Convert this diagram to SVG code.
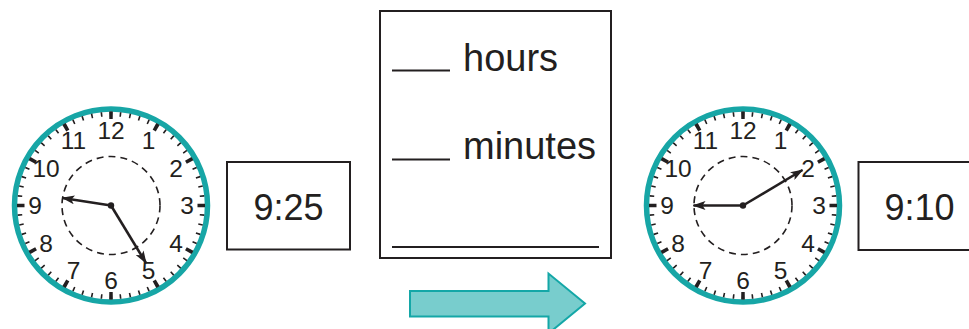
<svg xmlns="http://www.w3.org/2000/svg" width="969" height="329" viewBox="0 0 969 329">
<defs>
<style>
.face{fill:#fff;stroke:#17a6a6;stroke-width:5.5}
.mtick{fill:none;stroke:#231f20;stroke-width:4.5;stroke-dasharray:0.17 0.83;stroke-dashoffset:0.085}
.htick{fill:none;stroke:#231f20;stroke-width:7.5;stroke-dasharray:0.078 0.922;stroke-dashoffset:0.039}
.inner{fill:none;stroke:#231f20;stroke-width:1.6;stroke-dasharray:7 5}
.num{font-family:"Liberation Sans",Arial,sans-serif;font-size:24.5px;fill:#231f20;text-anchor:middle}
.hand{stroke:#231f20;stroke-width:2.6;fill:none;marker-end:url(#ah)}
.box{fill:#fff;stroke:#231f20;stroke-width:2}
.big{font-family:"Liberation Sans",Arial,sans-serif;font-size:36px;fill:#231f20;text-anchor:middle}
.word{font-family:"Liberation Sans",Arial,sans-serif;font-size:38px;fill:#231f20}
.rule{stroke:#231f20;stroke-width:2}
</style>
<marker id="ah" viewBox="0 0 13 9" refX="12" refY="4.5" markerWidth="13" markerHeight="9" markerUnits="userSpaceOnUse" orient="auto">
<path d="M0,0 L13,4.5 L0,9 L3,4.5 z" fill="#231f20"/>
</marker>
<g id="dial">
<circle class="face" r="96.5"/>
<circle class="mtick" r="91.5" pathLength="60"/>
<circle class="htick" r="90.25" pathLength="12"/>
<circle class="inner" r="49"/>
<text class="num" x="0" y="-66.5">12</text>
<text class="num" x="37.5" y="-56.5">1</text>
<text class="num" x="65" y="-29">2</text>
<text class="num" x="76" y="8.5">3</text>
<text class="num" x="65" y="46">4</text>
<text class="num" x="37.5" y="73.5">5</text>
<text class="num" x="0" y="83.5">6</text>
<text class="num" x="-37.5" y="73.5">7</text>
<text class="num" x="-65" y="46">8</text>
<text class="num" x="-76" y="8.5">9</text>
<text class="num" x="-65" y="-29">10</text>
<text class="num" x="-37.5" y="-56.5">11</text>
</g>
</defs>

<g id="clock-925" transform="translate(111,205.5)">
<use href="#dial"/>
<line class="hand" x1="0" y1="0" x2="-48.5" y2="-7.5"/>
<line class="hand" x1="0" y1="0" x2="35" y2="57.5"/>
<circle r="3.2" fill="#231f20"/>
</g>

<g id="time-925">
<rect class="box" x="227" y="162" width="123" height="87.5"/>
<text class="big" x="288.5" y="219.5">9:25</text>
</g>

<g id="answer-box">
<rect class="box" x="380" y="11" width="231" height="247" stroke-width="2.5"/>
<line class="rule" x1="392" y1="70.5" x2="450" y2="70.5"/>
<text class="word" x="463" y="71">hours</text>
<line class="rule" x1="392" y1="159.5" x2="450" y2="159.5"/>
<text class="word" x="463" y="159">minutes</text>
<line class="rule" x1="392" y1="247" x2="599" y2="247"/>
</g>

<g id="clock-910" transform="translate(743,205.5)">
<use href="#dial"/>
<line class="hand" x1="0" y1="0" x2="-49.5" y2="0"/>
<line class="hand" x1="0" y1="0" x2="59.5" y2="-35.5"/>
<circle r="3.2" fill="#231f20"/>
</g>

<g id="time-910">
<rect class="box" x="858.5" y="162" width="130" height="88"/>
<text class="big" x="919.5" y="219.5">9:10</text>
</g>

<g id="connectors">
<polygon points="410,291 548.5,291 548.5,273.5 585,303.5 548.5,333.5 548.5,316.5 410,316.5" fill="#78cdcd" stroke="#14a7a7" stroke-width="2" stroke-linejoin="miter"/>
</g>
</svg>
